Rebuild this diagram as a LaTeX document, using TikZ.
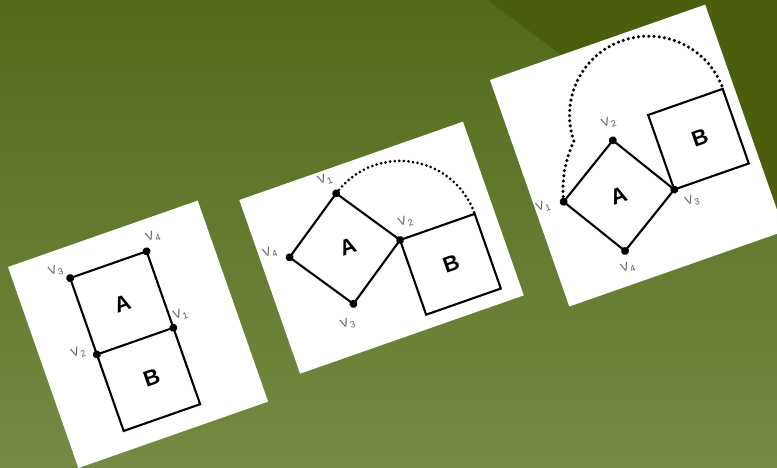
\documentclass[tikz,border=0pt]{standalone}
\usepackage{fontspec}
\setmainfont{Liberation Sans}
\usetikzlibrary{calc}

\definecolor{bgtop}{HTML}{536A1B}
\definecolor{bgbot}{HTML}{768A43}
\definecolor{bgdark}{HTML}{4A5E0D}
\definecolor{vgray}{HTML}{5A5A5A}

\newcommand{\vsub}[1]{V\kern0.6pt\raisebox{-3pt}{\fontsize{9}{9}\selectfont #1}}

\tikzset{
  panel/.style={fill=white},
  sqedge/.style={line width=2.1pt, line join=miter},
  vdot/.style={circle, fill=black, inner sep=0pt, minimum size=8pt},
  vlab/.style={font=\fontsize{12}{12}\selectfont, text=vgray, inner sep=0pt},
  blockname/.style={font=\fontsize{22}{22}\selectfont\bfseries, inner sep=0pt},
  rollpath/.style={line width=3pt, dash pattern=on 0pt off 4.6pt, line cap=round},
}

\begin{document}
\begin{tikzpicture}[x=1pt, y=1pt]
    %---- canvas
    \useasboundingbox (0,0) rectangle (777,-467);
    \clip (0,0) rectangle (777,-467);
    \shade[top color=bgtop, bottom color=bgbot] (0,0) rectangle (777,-467);
    \fill[bgdark] (488,0) -- (777,0) -- (777,-217) -- cycle;

    %---- panel 1: A sits on B
    \begin{scope}[shift={(8,-267)}, rotate=19.3, transform shape]
      \fill[panel] (0,0) rectangle (201,-213);
      \coordinate (p1v3) at (55,-31);
      \coordinate (p1v4) at (136,-31);
      \coordinate (p1v1) at (136,-112);
      \coordinate (p1v2) at (55,-112);
      \coordinate (p1b1) at (136,-193);
      \coordinate (p1b2) at (55,-193);
      \draw[sqedge] (p1v3) -- (p1v4) -- (p1v1) -- (p1v2) -- cycle;
      \draw[sqedge] (p1v2) -- (p1b2) -- (p1b1) -- (p1v1);
      \foreach \i in {1,...,4} \node[vdot] (p1d\i) at (p1v\i) {};
      \node[vlab] (p1l1) at ($(p1v1)+(11,10)$)  {\vsub{1}};
      \node[vlab] (p1l2) at ($(p1v2)+(-17,8)$)  {\vsub{2}};
      \node[vlab] (p1l3) at ($(p1v3)+(-11,12)$) {\vsub{3}};
      \node[vlab] (p1l4) at ($(p1v4)+(11,12)$)  {\vsub{4}};
      \node[blockname] (p1A) at (96,-72)  {A};
      \node[blockname] (p1B) at (99,-152) {B};
    \end{scope}

    %---- panel 2: A tilted, rolls about v2 onto B
    \begin{scope}[shift={(239.3,-200)}, rotate=19.3, transform shape]
      \fill[panel] (0,0) rectangle (237,-184);
      \coordinate (p2v1) at (93.6,-25.8);
      \coordinate (p2v2) at (138.5,-90.9);
      \coordinate (p2v3) at (73.4,-135.8);
      \coordinate (p2v4) at (28.5,-70.7);
      \coordinate (p2b1) at (217.6,-90.9);
      \coordinate (p2b2) at (217.6,-170);
      \coordinate (p2b3) at (138.5,-170);
      \draw[sqedge] (p2v1) -- (p2v2) -- (p2v3) -- (p2v4) -- cycle;
      \draw[sqedge] (p2v2) -- (p2b1) -- (p2b2) -- (p2b3) -- cycle;
      \draw[rollpath] (p2v1) arc[start angle=124.6, end angle=0, radius=79.1];
      \foreach \i in {1,...,4} \node[vdot] (p2d\i) at (p2v\i) {};
      \node[vlab] (p2l1) at ($(p2v1)+(-6,17)$)   {\vsub{1}};
      \node[vlab] (p2l2) at ($(p2v2)+(11,15)$)   {\vsub{2}};
      \node[vlab] (p2l3) at ($(p2v3)+(-12,-17)$) {\vsub{3}};
      \node[vlab] (p2l4) at ($(p2v4)+(-17,11)$)  {\vsub{4}};
      \node[blockname] (p2A) at (87,-80)   {A};
      \node[blockname] (p2B) at (179,-130) {B};
    \end{scope}

    %---- panel 3: A rolls about v3, then over B
    \begin{scope}[shift={(490,-80)}, rotate=19.3, transform shape]
      \fill[panel] (0,0) rectangle (228,-240);
      \coordinate (p3v1) at (29.25,-139.26);
      \coordinate (p3v2) at (96.0,-97.56);
      \coordinate (p3v3) at (137.7,-164.3);
      \coordinate (p3v4) at (70.96,-206.0);
      \coordinate (p3b1) at (137.7,-85.3);
      \coordinate (p3b2) at (216.7,-85.3);
      \coordinate (p3b3) at (216.7,-164.3);
      \draw[sqedge] (p3v1) -- (p3v2) -- (p3v3) -- (p3v4) -- cycle;
      \draw[sqedge] (p3v3) -- (p3b1) -- (p3b2) -- (p3b3) -- cycle;
      \draw[rollpath, line width=3.5pt, dash pattern=on 0pt off 5.2pt]
        (p3v1) arc[start angle=167, end angle=135, radius=111.3]
               arc[start angle=180, end angle=0, radius=79];
      \foreach \i in {1,...,4} \node[vdot] (p3d\i) at (p3v\i) {};
      \node[vlab] (p3l1) at ($(p3v1)+(-21,2)$)   {\vsub{1}};
      \node[vlab] (p3l2) at ($(p3v2)+(2,18)$)    {\vsub{2}};
      \node[vlab] (p3l3) at ($(p3v3)+(13,-17)$)  {\vsub{3}};
      \node[vlab] (p3l4) at ($(p3v4)+(-3,-17)$)  {\vsub{4}};
      \node[blockname] (p3A) at (83,-152)  {A};
      \node[blockname] (p3B) at (179,-124) {B};
    \end{scope}
\end{tikzpicture}
\end{document}
